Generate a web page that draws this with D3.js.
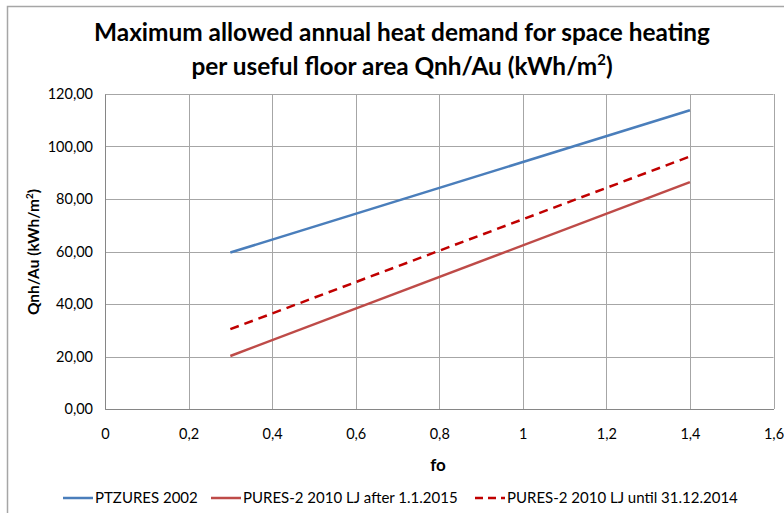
<!DOCTYPE html>
<html>
<head>
<meta charset="utf-8">
<script src="https://cdn.jsdelivr.net/npm/d3@7"></script>
<style>
  body { margin: 0; background: #fff; }
  text { font-family: Lato, "Open Sans", sans-serif; fill: #000; }
</style>
</head>
<body>
<script>
// data
var foValues = [0.3, 1.4];
var ptzures2002 = [59.6, 113.8];
var puresAfter2015 = [20.2, 86.4];
var puresUntil2014 = [30.4, 96.2];
var seriesNames = ["PTZURES 2002", "PURES-2 2010 LJ after 1.1.2015", "PURES-2 2010 LJ until 31.12.2014"];
var xTicks = [0, 0.2, 0.4, 0.6, 0.8, 1, 1.2, 1.4, 1.6];
var yTicks = [0, 20, 40, 60, 80, 100, 120];

var svgWidth = 784, svgHeight = 517;
var margin = { top: 94, right: 10.5, bottom: 108, left: 105 };
var chartWidth = svgWidth - margin.left - margin.right;
var chartHeight = svgHeight - margin.top - margin.bottom;

var svg = d3.select("body").append("svg")
  .attr("width", svgWidth)
  .attr("height", svgHeight);

// outer chart border (only top and left are visible in the picture)
svg.append("path")
  .attr("d", "M7.5,513 V6.5 H790")
  .attr("fill", "none")
  .attr("stroke", "#a6a6a6")
  .attr("stroke-width", 1.5);

// title
var title = svg.append("text")
  .attr("text-anchor", "middle")
  .attr("font-weight", "bold")
  .attr("font-size", 24.4);
title.append("tspan").attr("x", 402).attr("y", 41)
  .text("Maximum allowed annual heat demand for space heating");
var t2 = title.append("tspan").attr("x", 402).attr("y", 75)
  .text("per useful floor area Qnh/Au (kWh/m");
t2.append("tspan").attr("dy", -10).attr("font-size", 15).text("2");
t2.append("tspan").attr("dy", 10).text(")");

var chartGroup = svg.append("g")
  .attr("transform", `translate(${margin.left}, ${margin.top})`);

var xScale = d3.scaleLinear().domain([0, 1.6]).range([0, chartWidth]);
var yScale = d3.scaleLinear().domain([0, 120]).range([chartHeight, 0]);

// grid
chartGroup.selectAll(".hgrid")
  .data(yTicks)
  .enter().append("line")
  .attr("x1", 0).attr("x2", chartWidth)
  .attr("y1", d => Math.round(yScale(d)) + 0.5)
  .attr("y2", d => Math.round(yScale(d)) + 0.5)
  .attr("stroke", "#a6a6a6");

chartGroup.selectAll(".vgrid")
  .data(xTicks)
  .enter().append("line")
  .attr("y1", 0).attr("y2", chartHeight)
  .attr("x1", d => Math.round(xScale(d)) + 0.5)
  .attr("x2", d => Math.round(xScale(d)) + 0.5)
  .attr("stroke", "#a6a6a6");

// axes
var yAxis = d3.axisLeft(yScale).tickValues(yTicks)
  .tickFormat(d => d3.format(".2f")(d).replace(".", ","))
  .tickSize(0).tickPadding(12);
var xAxis = d3.axisBottom(xScale).tickValues(xTicks)
  .tickFormat(d => d3.format("")(d).replace(".", ","))
  .tickSize(0).tickPadding(20);

var yG = chartGroup.append("g").call(yAxis);
var xG = chartGroup.append("g").attr("transform", `translate(0,${chartHeight})`).call(xAxis);
[yG, xG].forEach(function(g) {
  g.select(".domain").attr("stroke", "#868686");
  g.selectAll("text").attr("font-family", "Lato, sans-serif").attr("font-size", 14.5).attr("fill", "#000");
});

// axis titles
svg.append("text")
  .attr("text-anchor", "middle")
  .attr("font-weight", "bold")
  .attr("font-size", 17)
  .attr("x", 438).attr("y", 471)
  .text("fo");

var yt = svg.append("text")
  .attr("text-anchor", "middle")
  .attr("font-weight", "bold")
  .attr("font-size", 15.5)
  .attr("transform", "translate(39,252) rotate(-90)")
  .text("Qnh/Au (kWh/m");
yt.append("tspan").attr("dy", -6).attr("font-size", 10).text("2");
yt.append("tspan").attr("dy", 6).text(")");

// series
var series = [
  { name: seriesNames[0], values: ptzures2002, color: "#4a7ebb", dash: null },
  { name: seriesNames[1], values: puresAfter2015, color: "#be4b48", dash: null },
  { name: seriesNames[2], values: puresUntil2014, color: "#c00000", dash: "9,6" }
];

var line = d3.line()
  .x((d, i) => xScale(foValues[i]))
  .y(d => yScale(d));

series.forEach(function(s) {
  chartGroup.append("path")
    .datum(s.values)
    .attr("d", line)
    .attr("fill", "none")
    .attr("stroke", s.color)
    .attr("stroke-width", 2.5)
    .attr("stroke-dasharray", s.dash);
});

// legend
var legendX = [63, 211, 475];
var legend = svg.selectAll(".legend")
  .data(series)
  .enter().append("g")
  .attr("transform", (d, i) => `translate(${legendX[i]}, 498)`);

legend.append("line")
  .attr("x1", 0).attr("x2", 30)
  .attr("y1", 0).attr("y2", 0)
  .attr("stroke", d => d.color)
  .attr("stroke-width", 2.5)
  .attr("stroke-dasharray", d => d.dash ? "8,5" : null);

legend.append("text")
  .attr("x", 32).attr("y", 5)
  .attr("font-size", 15)
  .text(d => d.name);
</script>
</body>
</html>
